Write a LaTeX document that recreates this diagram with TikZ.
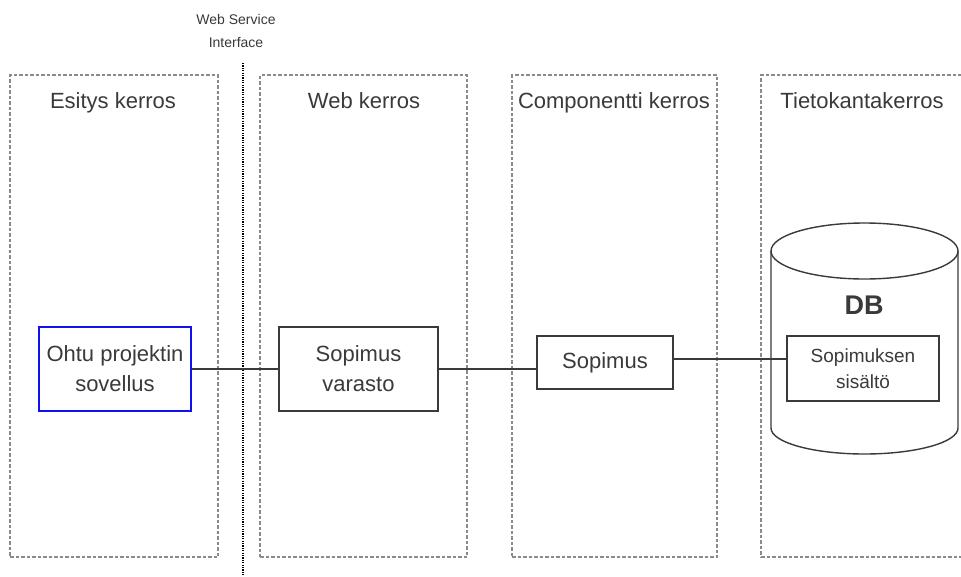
\documentclass[tikz,border=0pt]{standalone}
\usepackage{fontspec}
\setmainfont{Liberation Sans}
\usetikzlibrary{calc}

\definecolor{inkgray}{HTML}{3A3A3A}
\definecolor{dashgray}{HTML}{8A8A8A}
\definecolor{appblue}{HTML}{1010F0}

\tikzset{
	layerbox/.style={draw=dashgray, line width=1.2pt, dash pattern=on 3.5pt off 2pt, inner sep=0pt},
	layertitle/.style={anchor=base, text=inkgray, font=\fontsize{22}{26}\selectfont},
	compbox/.style={draw=inkgray, line width=1.4pt, fill=white, align=center, text=inkgray, inner sep=0pt, font=\fontsize{22}{30}\selectfont},
	link/.style={draw=inkgray, line width=1.4pt}
}

\begin{document}
\begin{tikzpicture}[x=1pt,y=-1pt]
			\clip (0,0) rectangle (961,576);
			\fill[white] (0,0) rectangle (961,576);

			% Draw the four layers
			\node[layerbox, minimum width=208pt, minimum height=482pt] (esitys) at (114,316) {};
			\node[layerbox, minimum width=207pt, minimum height=482pt] (web) at (363.5,316) {};
			\node[layerbox, minimum width=205pt, minimum height=482pt] (komp) at (614.5,316) {};
			\node[layerbox, minimum width=214pt, minimum height=482pt] (tieto) at (868,316) {};

			% Layer titles
			\node[layertitle] (esitysT) at (113,108) {Esitys kerros};
			\node[layertitle] (webT) at (364,108) {Web kerros};
			\node[layertitle] (kompT) at (614,108) {Componentti kerros};
			\node[layertitle] (tietoT) at (862,108) {Tietokantakerros};

			% Draw web service interface
			\coordinate (wsitop) at (243,63);
			\coordinate (wsibot) at (243,576);
			\draw[black, line width=1.4pt, dash pattern=on 1.2pt off 1.2pt] (wsitop) -- (wsibot);
			\node[text=inkgray, align=center, font=\fontsize{14}{23}\selectfont] (wsi) at (236,31) {Web Service\\Interface};

			% Draw the database cylinder
			\draw[inkgray, line width=1.4pt, fill=white] (771,251) -- (771,428) arc(180:360:93.5pt and 26pt) -- (958,251);
			\draw[inkgray, line width=1.4pt, fill=white] (864.5,251) ellipse[x radius=93.5pt, y radius=28pt];
			\node[text=inkgray, font=\bfseries\fontsize{27}{30}\selectfont] (db) at (864,305) {DB};

			% Draw components
			\node[compbox, draw=appblue, minimum width=152pt, minimum height=84pt] (ohtu) at (115,369) {Ohtu projektin\\sovellus};
			\node[compbox, minimum width=159pt, minimum height=84pt] (varasto) at (358.5,369) {Sopimus\\varasto};
			\node[compbox, minimum width=136pt, minimum height=53pt] (sopimus) at (605,362.5) {Sopimus};
			\node[compbox, minimum width=152pt, minimum height=65pt, font=\fontsize{19}{26}\selectfont] (sisalto) at (863,368.5) {Sopimuksen\\sisältö};

			% Draw connections
			\draw[link] (ohtu.east) -- (ohtu.east -| varasto.west);
			\draw[link] (varasto.east) -- (varasto.east -| sopimus.west);
			\draw[link] ([yshift=3.5pt]sopimus.east) -- ([yshift=3.5pt]sopimus.east -| sisalto.west);
\end{tikzpicture}
\end{document}
